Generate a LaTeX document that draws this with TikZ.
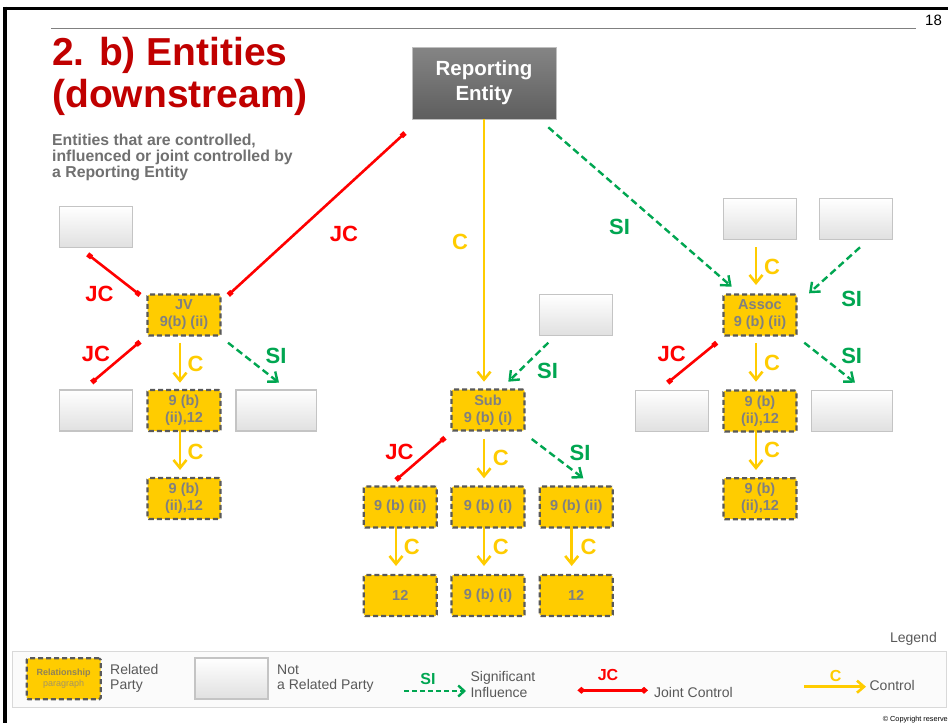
\documentclass[tikz,border=0pt]{standalone}
\usepackage{fontspec}
\setmainfont{Liberation Sans}
\usetikzlibrary{arrows.meta,calc}
\definecolor{ttl}{HTML}{C00000}
\definecolor{jcred}{HTML}{FF0000}
\definecolor{cyel}{HTML}{FFCC00}
\definecolor{sigr}{HTML}{00A651}
\definecolor{ntxt}{HTML}{808080}
\definecolor{dashgray}{HTML}{595959}
\definecolor{subtxt}{HTML}{707070}
\definecolor{legtxt}{HTML}{595959}
\definecolor{regtop}{HTML}{858585}
\definecolor{regbot}{HTML}{5E5E5E}
\definecolor{gbord}{HTML}{C4C4C4}
\definecolor{gbot}{HTML}{E0E0E0}
\definecolor{relc}{HTML}{8F8258}
\definecolor{parc}{HTML}{A39464}
\tikzset{
  ybox/.style={draw=dashgray, line width=2.2pt, dash pattern=on 5pt off 3pt,
    fill=cyel, minimum width=73pt, minimum height=41pt, inner sep=0pt,
    align=center, font=\bfseries\fontsize{14.5}{17}\selectfont, text=ntxt,
    rounded corners=1.5pt},
  gbox/.style={draw=gbord, line width=1.2pt, top color=white, bottom color=gbot,
    minimum width=73pt, minimum height=41pt, inner sep=0pt},
  gboxw/.style={gbox, minimum width=80.6pt},
  rebox/.style={draw=gray!50, line width=0.8pt, top color=regtop, bottom color=regbot,
    minimum width=144pt, minimum height=72pt, inner sep=0pt, text=white,
    align=center, font=\bfseries\fontsize{20.5}{25}\selectfont},
  redl/.style={draw=jcred, line width=2.6pt, {Square[length=5pt,width=5pt]}-{Square[length=5pt,width=5pt]}},
  yarr/.style={draw=cyel, line width=2.6pt, -{Straight Barb[length=8pt,width=13pt]}},
  garr/.style={draw=sigr, line width=2.4pt, dash pattern=on 7pt off 4pt, -{Straight Barb[length=8pt,width=13pt]}},
  lab/.style={font=\bfseries\fontsize{22}{22}\selectfont, inner sep=0pt},
  labjc/.style={lab, text=jcred},
  labc/.style={lab, text=cyel},
  labsi/.style={lab, text=sigr},
  legt/.style={font=\fontsize{14}{16}\selectfont, text=legtxt, inner sep=0pt, anchor=base west},
  legl/.style={font=\bfseries\fontsize{16}{16}\selectfont, inner sep=0pt},
  subt/.style={font=\bfseries\fontsize{15.8}{16}\selectfont, text=subtxt, inner sep=0pt, anchor=base west}
}
\begin{document}
\begin{tikzpicture}[x=1pt,y=-1pt]
\useasboundingbox (0,0) rectangle (948,723);
\fill[white] (0,0) rectangle (948,723);
% frame
\draw[line width=3pt] (4,8) -- (948,8);
\draw[line width=4pt] (5.3,6.5) -- (5.3,723);
\draw[gray, line width=1pt] (51,28.3) -- (915.5,28.3);
\node[font=\fontsize{15}{15}\selectfont, inner sep=0pt, anchor=base] (pg) at (933.5,25) {18};

% title
\node[font=\bfseries\fontsize{39}{42}\selectfont, text=ttl, inner sep=0pt, anchor=base west] (t1) at (52,65) {2. b) Entities};
\node[font=\bfseries\fontsize{39}{42}\selectfont, text=ttl, inner sep=0pt, anchor=base west] (t2) at (52,107) {(downstream)};
\node[subt] (s1) at (52,145.7) {Entities that are controlled,};
\node[subt] (s2) at (52,161.8) {influenced or joint controlled by};
\node[subt] (s3) at (52,177.7) {a Reporting Entity};

% top entity
\node[rebox] (RE) at (484,83) {Reporting\\Entity};

% left group
\node[gbox] (G1) at (96,227) {};
\node[ybox] (JV) at (184,315) {JV\\9(b) (ii)};
\node[gbox] (G2) at (96,410.5) {};
\node[ybox] (JVa) at (184,410.5) {9 (b)\\(ii),12};
\node[gboxw] (G3) at (276.3,410.5) {};
\node[ybox] (JVb) at (184,498.5) {9 (b)\\(ii),12};

% middle group
\node[gbox] (G4) at (575.8,315) {};
\node[ybox] (Sub) at (488,410) {Sub\\9 (b) (i)};
\node[ybox] (S1) at (400.3,507) {9 (b) (ii)};
\node[ybox] (S2) at (488,507) {9 (b) (i)};
\node[ybox] (S3) at (576.2,507) {9 (b) (ii)};
\node[ybox] (T1) at (400.3,595.5) {12};
\node[ybox] (T2) at (488,595.5) {9 (b) (i)};
\node[ybox] (T3) at (576.2,595.5) {12};

% right group
\node[gbox] (G5) at (760,219) {};
\node[gbox] (G6) at (856,219) {};
\node[ybox] (As) at (760,315) {Assoc\\9 (b) (ii)};
\node[gbox] (G7) at (672,410.7) {};
\node[ybox] (Am) at (760,411) {9 (b)\\(ii),12};
\node[gboxw] (G8) at (852,410.7) {};
\node[ybox] (Ab) at (760,498.7) {9 (b)\\(ii),12};

% connectors from reporting entity
\draw[redl] ([shift={(-79,50)}]RE.center) -- ([shift={(44.3,-20)}]JV.center);
\draw[yarr] (RE.south) -- ([shift={(-4,-28.3)}]Sub.center);
\draw[garr] ([shift={(64.3,44.3)}]RE.center) -- ([shift={(-28.3,-28.3)}]As.center);
\node[labjc] (lj0) at (344,234.3) {JC};
\node[labc] (lc0) at (460,242) {C};
\node[labsi] (ls0) at (619.5,226.7) {SI};

% left group connectors
\draw[redl] ([shift={(-44,-20)}]JV.center) -- ([shift={(-8.3,27.3)}]G1.center);
\draw[redl] ([shift={(-44,26.7)}]JV.center) -- ([shift={(-4.3,-28)}]G2.center);
\draw[yarr] ([shift={(-4,27.7)}]JV.center) -- ([shift={(-4,-27.8)}]JVa.center);
\draw[garr] ([shift={(44,27.7)}]JV.center) -- ([shift={(2.7,-27.8)}]G3.center);
\draw[yarr] ([shift={(-4,19.5)}]JVa.center) -- ([shift={(-4,-28.5)}]JVb.center);
\node[labjc] (lj1) at (99.5,293.5) {JC};
\node[labjc] (lj2) at (96,354) {JC};
\node[labc] (lc1) at (195.5,363.5) {C};
\node[labsi] (ls1) at (276,355.5) {SI};
\node[labc] (lc2) at (195.5,451.5) {C};

% middle group connectors
\draw[garr] ([shift={(-27.5,27.7)}]G4.center) -- ([shift={(20.3,-28.3)}]Sub.center);
\draw[redl] ([shift={(-43,27.7)}]Sub.center) -- ([shift={(-4.3,-27)}]S1.center);
\draw[yarr] ([shift={(-4,29.3)}]Sub.center) -- ([shift={(-4,-28.7)}]S2.center);
\draw[garr] ([shift={(43.7,29)}]Sub.center) -- ([shift={(7.1,-28.7)}]S3.center);
\draw[yarr] ([shift={(-4.3,20.3)}]S1.center) -- ([shift={(-4.3,-29.5)}]T1.center);
\draw[yarr] ([shift={(-4,20.3)}]S2.center) -- ([shift={(-4,-29.5)}]T2.center);
\draw[yarr] ([shift={(-4.5,20.3)}]S3.center) -- ([shift={(-4.5,-29.5)}]T3.center);
\node[labsi] (ls2) at (547.5,371) {SI};
\node[labjc] (lj3) at (399.5,452) {JC};
\node[labc] (lc3) at (500.8,458) {C};
\node[labsi] (ls3) at (580,453) {SI};
\node[labc] (lc4) at (411.7,546.7) {C};
\node[labc] (lc5) at (500.8,546.7) {C};
\node[labc] (lc6) at (588.5,546.7) {C};

% right group connectors
\draw[yarr] ([shift={(-4,28.3)}]G5.center) -- ([shift={(-4,-30)}]As.center);
\draw[garr] ([shift={(4,28.3)}]G6.center) -- ([shift={(49,-21.7)}]As.center);
\draw[redl] ([shift={(-43.3,27.7)}]As.center) -- ([shift={(-4.3,-28)}]G7.center);
\draw[yarr] ([shift={(-4,28.3)}]As.center) -- ([shift={(-4,-29.3)}]Am.center);
\draw[garr] ([shift={(44.3,27.7)}]As.center) -- ([shift={(3,-28)}]G8.center);
\draw[yarr] ([shift={(-4,19.7)}]Am.center) -- ([shift={(-4,-28.7)}]Ab.center);
\node[labc] (lc7) at (772,266.7) {C};
\node[labsi] (ls4) at (851.7,298.7) {SI};
\node[labjc] (lj4) at (671.7,354) {JC};
\node[labc] (lc8) at (772,363.3) {C};
\node[labsi] (ls5) at (851.7,355.8) {SI};
\node[labc] (lc9) at (772,450) {C};

% legend
\node[font=\fontsize{14}{16}\selectfont, text=legtxt, inner sep=0pt, anchor=base east] (lgt) at (937,642) {Legend};
\node[draw=gray!30, fill=gray!3, line width=1pt, minimum width=934pt, minimum height=56pt, inner sep=0pt, anchor=north west] (lg) at (12,650.5) {};
\node[ybox, minimum width=74pt, font=\fontsize{9}{10.7}\selectfont] (lyb) at (63.7,678.8)
  {{\bfseries\color{relc}Relationship}\\{\color{parc}paragraph}};
\node[legt] (lr1) at (110,674) {Related};
\node[legt] (lr2) at (110,689) {Party};
\node[gbox] (lgb) at (231.5,678.5) {};
\node[legt] (ln1) at (277,674) {Not};
\node[legt] (ln2) at (277,689) {a Related Party};
\node[legl, text=sigr] (lsi) at (428,679) {SI};
\coordinate (lsa) at (404,691);
\coordinate (lsb) at (466,691);
\draw[draw=sigr, line width=2.4pt, dash pattern=on 5pt off 3pt, -{Straight Barb[length=6pt,width=11pt]}] (lsa) -- (lsb);
\node[legt] (lsg1) at (470.4,681.7) {Significant};
\node[legt] (lsg2) at (470.4,697) {Influence};
\node[legl, text=jcred] (ljc) at (608,675) {JC};
\coordinate (lja) at (577.4,690.3);
\coordinate (ljb) at (648,690.3);
\draw[draw=jcred, line width=2.6pt, {Diamond[length=8pt,width=7pt]}-{Diamond[length=8pt,width=7pt]}] (lja) -- (ljb);
\node[legt] (ljt) at (654,697) {Joint Control};
\node[legl, text=cyel] (lcc) at (835.6,676) {C};
\coordinate (lca) at (804,686.7);
\coordinate (lcb) at (866,686.7);
\draw[draw=cyel, line width=2.6pt, -{Straight Barb[length=7pt,width=12pt]}] (lca) -- (lcb);
\node[legt] (lct) at (869.4,690) {Control};
\node[font=\fontsize{7.3}{8}\selectfont, inner sep=0pt, anchor=base east] (cpy) at (948,721) {© Copyright reserve};
\end{tikzpicture}
\end{document}
